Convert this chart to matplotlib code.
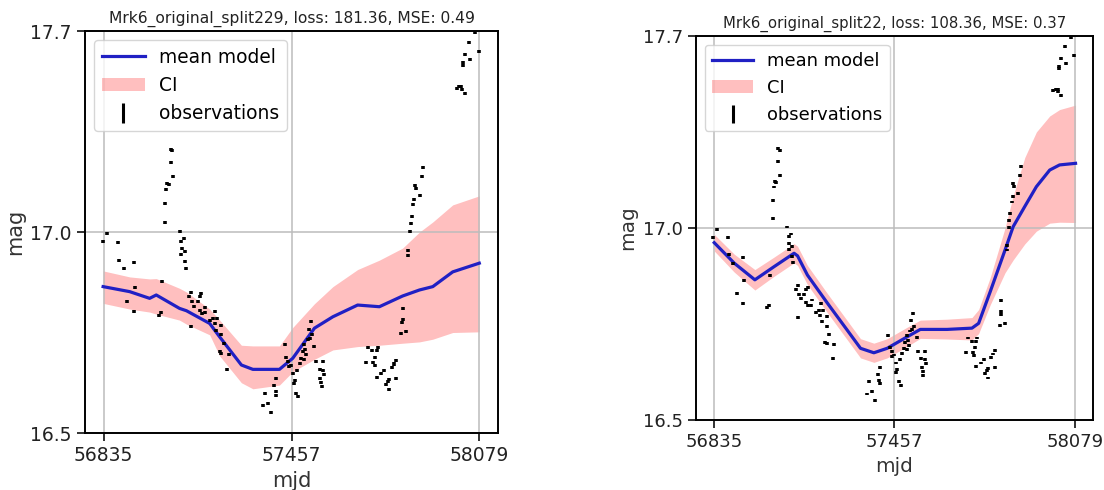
import matplotlib.pyplot as plt
from matplotlib.lines import Line2D
from matplotlib.patches import Patch

# observed light curve (shared by both splits)
obs_mjd = [56833, 56847, 56882, 56886, 56901, 56913, 56934, 56935, 56938,
           57017, 57026, 57028, 57039, 57039, 57042, 57046, 57050, 57057,
           57061, 57057, 57064, 57086, 57092, 57092, 57095, 57101, 57103,
           57105, 57109, 57116, 57123, 57125, 57127, 57134, 57147, 57158,
           57153, 57153, 57160, 57169, 57172, 57186, 57197, 57202, 57205,
           57208, 57211, 57219, 57224, 57224, 57224, 57233, 57244, 57249,
           57362, 57368, 57379, 57390, 57399, 57404, 57406, 57406, 57434,
           57440, 57447, 57450, 57456, 57461, 57464, 57467, 57473, 57475,
           57478, 57484, 57489, 57494, 57500, 57500, 57503, 57506, 57511,
           57514, 57517, 57522, 57526, 57533, 57537, 57550, 57553, 57556,
           57557, 57561, 57561, 57565, 57704, 57712, 57724, 57728, 57732,
           57735, 57739, 57739, 57742, 57754, 57765, 57770, 57776, 57781,
           57781, 57790, 57798, 57804, 57804, 57820, 57823, 57825, 57825,
           57837, 57844, 57844, 57850, 57853, 57856, 57861, 57864, 57867,
           57870, 57883, 57890, 57892, 58005, 58013, 58019, 58022, 58024,
           58024, 58030, 58030, 58044, 58048, 58065, 58077]
obs_mag = [17.071, 17.096, 17.069, 17.016, 16.990, 16.894, 16.864, 17.008, 16.935,
           16.852, 16.859, 16.952, 17.129, 17.186, 17.228, 17.245, 17.243, 17.347,
           17.342, 17.308, 17.265, 17.103, 17.073, 17.034, 17.051, 17.081, 17.041,
           17.011, 16.992, 16.907, 16.919, 16.819, 16.892, 16.879, 16.892, 16.915,
           16.907, 16.867, 16.857, 16.859, 16.875, 16.835, 16.842, 16.827, 16.864,
           16.807, 16.842, 16.743, 16.822, 16.793, 16.738, 16.766, 16.691, 16.735,
           16.581, 16.619, 16.589, 16.561, 16.643, 16.623, 16.663, 16.613, 16.763,
           16.726, 16.713, 16.698, 16.703, 16.678, 16.648, 16.658, 16.619, 16.688,
           16.608, 16.708, 16.723, 16.743, 16.763, 16.720, 16.748, 16.733, 16.778,
           16.810, 16.783, 16.832, 16.793, 16.758, 16.713, 16.691, 16.663, 16.651,
           16.638, 16.713, 16.688, 16.676, 16.711, 16.756, 16.745, 16.710, 16.701,
           16.726, 16.745, 16.666, 16.756, 16.678, 16.688, 16.645, 16.655, 16.661,
           16.631, 16.696, 16.706, 16.716, 16.663, 16.796, 16.829, 16.872, 16.839,
           16.802, 17.044, 17.031, 17.101, 17.124, 17.146, 17.181, 17.198, 17.240,
           17.230, 17.208, 17.265, 17.292, 17.529, 17.534, 17.534, 17.526, 17.605,
           17.598, 17.630, 17.514, 17.666, 17.615, 17.695, 17.638]

# split 229 model
s229_mjd = [56833, 56921, 56987, 57009, 57086, 57109, 57186, 57219, 57291, 57329,
            57417, 57461, 57533, 57594, 57676, 57748, 57825, 57881, 57925, 57991,
            58079]
s229_mean = [16.937, 16.922, 16.902, 16.912, 16.872, 16.865, 16.827, 16.787, 16.703,
             16.690, 16.690, 16.723, 16.813, 16.847, 16.882, 16.877, 16.909, 16.927,
             16.937, 16.981, 17.007]
s229_lo = [16.887, 16.870, 16.861, 16.855, 16.837, 16.825, 16.793, 16.730, 16.650,
           16.632, 16.643, 16.683, 16.720, 16.748, 16.758, 16.762, 16.768, 16.772,
           16.780, 16.800, 16.802]
s229_hi = [16.984, 16.966, 16.960, 16.961, 16.932, 16.921, 16.870, 16.837, 16.762,
           16.760, 16.760, 16.815, 16.886, 16.937, 16.988, 17.016, 17.052, 17.100,
           17.130, 17.181, 17.208]

# split 22 model
s22_mjd = [56836, 56905, 56976, 57042, 57111, 57123, 57157, 57226, 57294, 57340,
           57386, 57432, 57501, 57546, 57638, 57724, 57747, 57787, 57838, 57866,
           57906, 57946, 57992, 58026, 58081]
s22_mean = [17.054, 16.990, 16.938, 16.979, 17.021, 17.013, 16.953, 16.865, 16.781,
            16.724, 16.710, 16.724, 16.760, 16.783, 16.783, 16.787, 16.802, 16.901,
            17.031, 17.104, 17.167, 17.229, 17.281, 17.297, 17.302]
s22_lo = [17.028, 16.962, 16.906, 16.949, 16.991, 16.983, 16.923, 16.835, 16.751,
          16.694, 16.680, 16.694, 16.730, 16.755, 16.753, 16.750, 16.770, 16.860,
          16.960, 17.000, 17.050, 17.090, 17.115, 17.118, 17.117]
s22_hi = [17.080, 17.018, 16.970, 17.009, 17.051, 17.043, 16.983, 16.895, 16.811,
          16.754, 16.740, 16.754, 16.790, 16.812, 16.815, 16.820, 16.845, 16.945,
          17.100, 17.200, 17.320, 17.400, 17.450, 17.470, 17.484]

xticks = [56835, 57457, 58079]
yticks = [16.5, 17.1, 17.7]
ytick_labels = ["16.5", "17.0", "17.7"]

line_color = "#2020c4"


def draw_panel(ax, mjd, mean, lo, hi, title, s=1.0):
    ax.fill_between(mjd, lo, hi, color="red", alpha=0.25, linewidth=0)
    ax.plot(mjd, mean, color=line_color, lw=2.3)
    ax.errorbar(obs_mjd, obs_mag, yerr=0.0045, fmt="none", ecolor="black",
                elinewidth=2.6)
    ax.set_xlim(56773, 58141)
    ax.set_ylim(16.5, 17.7)
    ax.set_xticks(xticks)
    ax.set_xticklabels([str(t) for t in xticks])
    ax.set_yticks(yticks)
    ax.set_yticklabels(ytick_labels)
    ax.grid(True, color="#bcbcbc", lw=1.1)
    ax.tick_params(labelsize=13.5 * s, length=6, width=1.3, colors="#222222")
    for sp in ax.spines.values():
        sp.set_linewidth(1.4)
    ax.set_xlabel("mjd", fontsize=15 * s, color="#333333")
    ax.set_ylabel("mag", fontsize=15 * s, color="#333333")
    ax.set_title(title, fontsize=11.2 * s, color="#222222")
    handles = [
        Line2D([], [], color=line_color, lw=2.3),
        Patch(facecolor="red", alpha=0.25, edgecolor="none"),
        Line2D([], [], color="black", marker="|", ls="none", markersize=14 * s,
               markeredgewidth=2.2),
    ]
    ax.legend(handles, ["mean model", "CI", "observations"], loc="upper left",
              fontsize=13.4 * s, handlelength=2.3, borderaxespad=0.5)


fig = plt.figure(figsize=(11.04, 4.9), dpi=100)
ax1 = fig.add_axes([0.0770, 0.1163, 0.3741, 0.8204])
ax2 = fig.add_axes([0.6304, 0.1429, 0.3596, 0.7837])

draw_panel(ax1, s229_mjd, s229_mean, s229_lo, s229_hi,
           "Mrk6_original_split229, loss: 181.36, MSE: 0.49")
draw_panel(ax2, s22_mjd, s22_mean, s22_lo, s22_hi,
           "Mrk6_original_split22, loss: 108.36, MSE: 0.37", s=0.96)

fig.savefig("out.png", dpi=100)
